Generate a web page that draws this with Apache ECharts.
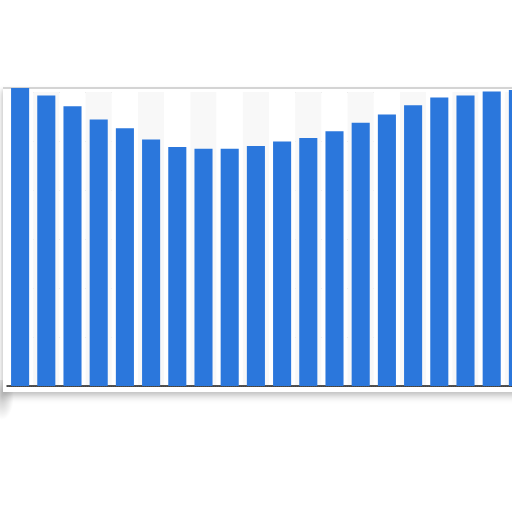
<!DOCTYPE html>
<html>
<head>
<meta charset="utf-8">
<script src="https://cdn.jsdelivr.net/npm/echarts@6/dist/echarts.min.js"></script>
<style>
  html, body { margin: 0; padding: 0; background: #fff; overflow: hidden; }
  #wrap { position: relative; width: 512px; height: 512px; overflow: hidden; }
  #curl {
    position: absolute; left: -6px; top: 380px; width: 20px; height: 40px;
    background: radial-gradient(ellipse at 40% 40%, rgba(0, 0, 0, 0.22), rgba(0, 0, 0, 0) 70%);
  }
  #paper {
    position: absolute; left: 3px; top: 87px; width: 540px; height: 303px;
    background: #fff; border-top: 2px solid #d4d4d4;
    box-shadow: 0 6px 6px rgba(0, 0, 0, 0.14), -2px 2px 4px rgba(0, 0, 0, 0.12);
  }
  #chart { position: absolute; left: 0; top: 0; width: 512px; height: 512px; }
</style>
</head>
<body>
<div id="wrap">
  <div id="curl"></div>
  <div id="paper"></div>
  <div id="chart"></div>
</div>
<script>
(function() {
  var categories = ['1', '2', '3', '4', '5', '6', '7', '8', '9', '10',
                    '11', '12', '13', '14', '15', '16', '17', '18', '19', '20'];
  var values = [60.8, 59.3, 57.1, 54.4, 52.6, 50.3, 48.8, 48.4, 48.4, 49.0,
                49.9, 50.6, 52.0, 53.7, 55.4, 57.3, 58.9, 59.3, 60.1, 60.4];

  var chart = echarts.init(document.getElementById('chart'), null, { renderer: 'canvas' });
  chart.setOption({
    animation: false,
    backgroundColor: 'transparent',
    grid: { left: 7, top: 92, bottom: 126, width: 524, outerBoundsMode: 'none', containLabel: false },
    xAxis: {
      type: 'category', data: categories,
      axisLine: { lineStyle: { color: '#1a1a1a', width: 1.5 } },
      axisTick: { show: false },
      axisLabel: { show: false },
      splitArea: { show: true, areaStyle: { color: ['#ffffff', '#f8f8f8'] } }
    },
    yAxis: {
      type: 'value', min: 0, max: 60, interval: 10,
      axisLine: { show: false }, axisTick: { show: false }, axisLabel: { show: false },
      splitLine: { lineStyle: { color: '#bdbdbd', type: 'dotted' } }
    },
    series: [{
      type: 'bar', data: values, clip: false,
      barCategoryGap: '31%',
      itemStyle: { color: '#2b77dc' }
    }]
  });
})();
</script>
</body>
</html>
